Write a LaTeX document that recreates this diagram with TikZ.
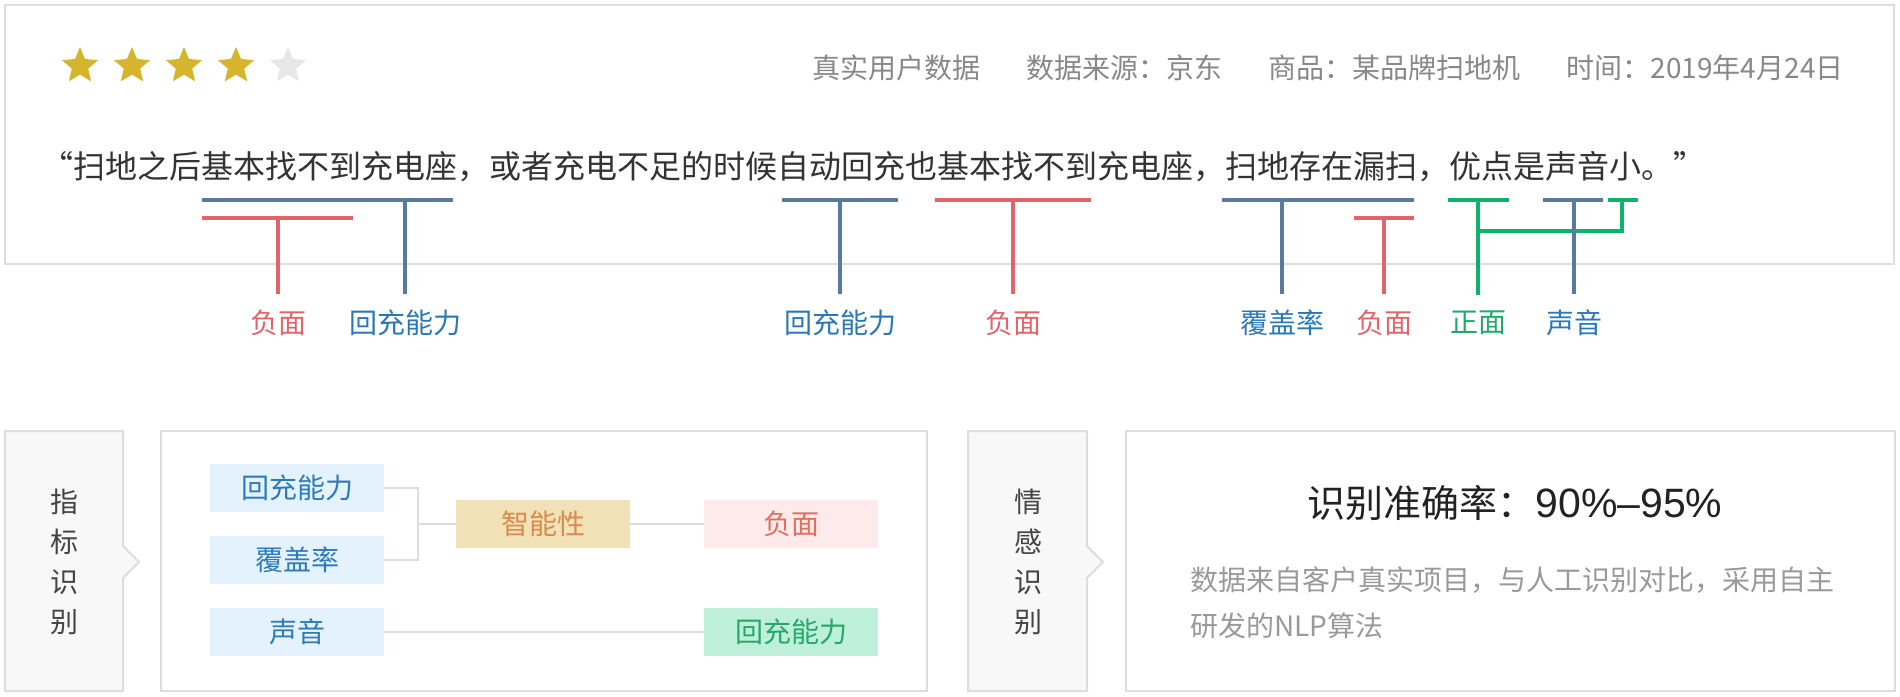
\documentclass[tikz,border=0pt]{standalone}
\usepackage{fontspec}
\setmainfont{Noto Sans CJK SC}
\newfontfamily\numfont{Liberation Sans}
\usetikzlibrary{shapes.geometric}

\definecolor{framegray}{HTML}{DDDDDD}
\definecolor{tabfill}{HTML}{F8F8F8}
\definecolor{gold}{HTML}{D5B52B}
\definecolor{stargray}{HTML}{E6E7E9}
\definecolor{metagray}{HTML}{888888}
\definecolor{quotegray}{HTML}{333333}
\definecolor{lineblue}{HTML}{5B789F}
\definecolor{linered}{HTML}{E0646A}
\definecolor{linegreen}{HTML}{0DB26B}
\definecolor{capblue}{HTML}{2A78B5}
\definecolor{capred}{HTML}{E06468}
\definecolor{capgreen}{HTML}{1FAA6C}
\definecolor{tagblue}{HTML}{E3F2FD}
\definecolor{tagbluetext}{HTML}{2E7BB8}
\definecolor{tagtan}{HTML}{F0E2B6}
\definecolor{tagtantext}{HTML}{D98A4E}
\definecolor{tagpink}{HTML}{FDEAEA}
\definecolor{tagpinktext}{HTML}{E0705E}
\definecolor{taggreen}{HTML}{BDEFD9}
\definecolor{taggreentext}{HTML}{27A86A}
\definecolor{tabtext}{HTML}{444444}
\definecolor{titletext}{HTML}{222222}
\definecolor{notegray}{HTML}{999999}

\newcommand\capfont{\fontsize{14pt}{17pt}\selectfont}
\newcommand\quotefont{\fontsize{16pt}{19pt}\selectfont}

\tikzset{
  frame/.style={draw=framegray, line width=1pt},
  tabshape/.style={draw=framegray, line width=1pt, fill=tabfill},
  tabtxt/.style={align=center, inner sep=0pt, text=tabtext, font=\fontsize{14pt}{20pt}\selectfont},
  blueln/.style={draw=lineblue, line width=2pt},
  redln/.style={draw=linered, line width=2pt},
  greenln/.style={draw=linegreen, line width=2pt},
  lbl/.style={inner sep=0pt, font=\capfont},
  tag/.style={rectangle, minimum width=87pt, minimum height=24pt, inner sep=0pt, font=\capfont},
  link/.style={draw=framegray, line width=1pt},
  rate/.style={star, star points=5, star point ratio=2.2, minimum size=19pt, inner sep=0pt}
}

\begin{document}
\begin{tikzpicture}[x=0.5pt, y=-0.5pt]
  \useasboundingbox (0,0) rectangle (1900,696);

  % review panel
  \draw[frame] (5,5) rectangle (1894,264);
  \foreach \i/\c in {1/gold, 2/gold, 3/gold, 4/gold, 5/stargray}
    \node[rate, fill=\c] (star\i) at (28+52*\i, 66) {};
  \node[anchor=base east, inner sep=0pt, font=\capfont, text=metagray] (meta) at (1844,78)
    {真实用户数据\hspace{23pt}数据来源：京东\hspace{23pt}商品：某品牌扫地机\hspace{23pt}时间：2019年4月24日};
  \node[anchor=base west, inner sep=0pt, font=\quotefont, text=quotegray] (quote) at (73,178)
    {\llap{“}扫地之后基本找不到充电座，或者充电不足的时候自动回充也基本找不到充电座，扫地存在漏扫，优点是声音小。\rlap{”}};

  \draw[blueln] (202,200) -- (453,200) coordinate (u1);
  \draw[redln] (202,218) -- (353,218) coordinate (u2);
  \draw[blueln] (782,200) -- (898,200) coordinate (u3);
  \draw[redln] (935,200) -- (1091,200) coordinate (u4);
  \draw[blueln] (1222,200) -- (1414,200) coordinate (u5);
  \draw[redln] (1354,218) -- (1414,218) coordinate (u6);
  \draw[greenln] (1448,200) -- (1509,200) coordinate (u7);
  \draw[blueln] (1543,200) -- (1603,200) coordinate (u8);
  \draw[greenln] (1608,200) -- (1638,200) coordinate (u9);

  \node[lbl, text=capred] (neg1) at (278,323) {负面};
  \node[lbl, text=capblue] (dock1) at (405,323) {回充能力};
  \node[lbl, text=capblue] (dock2) at (840,323) {回充能力};
  \node[lbl, text=capred] (neg2) at (1013,323) {负面};
  \node[lbl, text=capblue] (cover) at (1282,323) {覆盖率};
  \node[lbl, text=capred] (neg3) at (1384,323) {负面};
  \node[lbl, text=capgreen] (pos1) at (1478,323) {正面};
  \node[lbl, text=capblue] (sound) at (1574,323) {声音};

  \draw[redln, shorten <=8pt] (neg1.north) -- (neg1.north |- u2);
  \draw[blueln, shorten <=8pt] (dock1.north) -- (dock1.north |- u1);
  \draw[blueln, shorten <=8pt] (dock2.north) -- (dock2.north |- u3);
  \draw[redln, shorten <=8pt] (neg2.north) -- (neg2.north |- u4);
  \draw[blueln, shorten <=8pt] (cover.north) -- (cover.north |- u5);
  \draw[redln, shorten <=8pt] (neg3.north) -- (neg3.north |- u6);
  \coordinate (gj) at (1478,231);
  \draw[greenln, shorten <=8pt] (pos1.north) -- (pos1.north |- u7);
  \draw[greenln] (1622,200) |- (gj);
  \draw[blueln, shorten <=8pt] (sound.north) -- (sound.north |- u8);

  % indicator panel
  \draw[tabshape] (5,431) -- (123,431) -- (123,546) -- (139,562) -- (123,578) -- (123,691) -- (5,691) -- cycle;
  \node[tabtxt] (tab1) at (64,562) {指\\标\\识\\别};
  \draw[frame] (161,431) rectangle (927,691);
  \node[tag, fill=tagblue, text=tagbluetext] (dock) at (297,488) {回充能力};
  \node[tag, fill=tagblue, text=tagbluetext] (cov) at (297,560) {覆盖率};
  \node[tag, fill=tagblue, text=tagbluetext] (snd) at (297,632) {声音};
  \node[tag, fill=tagtan, text=tagtantext] (smart) at (543,524) {智能性};
  \node[tag, fill=tagpink, text=tagpinktext] (neg) at (791,524) {负面};
  \node[tag, fill=taggreen, text=taggreentext] (pos) at (791,632) {回充能力};
  \coordinate (jn) at (418,524);
  \draw[link] (dock.east) -| (jn) |- (cov.east);
  \draw[link] (jn) -- (smart.west);
  \draw[link] (smart.east) -- (neg.west);
  \draw[link] (snd.east) -- (pos.west);

  % sentiment panel
  \draw[tabshape] (968,431) -- (1087,431) -- (1087,546) -- (1103,562) -- (1087,578) -- (1087,691) -- (968,691) -- cycle;
  \node[tabtxt] (tab2) at (1028,562) {情\\感\\识\\别};
  \draw[frame] (1126,431) rectangle (1895,691);
  \node[inner sep=0pt, text=titletext, font=\fontsize{19pt}{22pt}\selectfont] (acc) at (1515,503)
    {识别准确率：{\numfont\fontsize{20.5pt}{22pt}\selectfont 90\%–95\%}};
  \node[anchor=north west, align=left, inner sep=0pt, text=notegray, font=\fontsize{14pt}{23pt}\selectfont] (note) at (1190,566)
    {数据来自客户真实项目，与人工识别对比，采用自主\\研发的NLP算法};
\end{tikzpicture}
\end{document}
